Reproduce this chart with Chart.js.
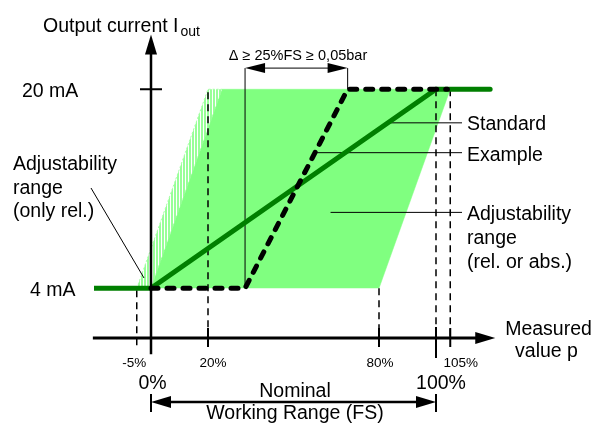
<!DOCTYPE html>
<html>
<head>
<meta charset="utf-8">
<script src="https://cdn.jsdelivr.net/npm/chart.js@4.4.1/dist/chart.umd.min.js"></script>
<style>
  html, body { margin: 0; padding: 0; background: #fff; }
  #wrap { width: 593px; height: 427px; position: relative; }
</style>
</head>
<body>
<div id="wrap"><canvas id="chart"></canvas></div>
<script>
// Measured value p in % of FS, output current in mA
const standardX = [-20, 0, 100, 119];
const standardY = [4, 4, 20, 20];
const exampleX = [0, 33, 69, 104];
const exampleY = [4, 4, 20, 20];
const absRangeX = [0, 25, 105, 80];   // rel. or abs.
const absRangeY = [4, 20, 20, 4];
const relRangeX = [-5, 20, 25, 0];    // only rel.
const relRangeY = [4, 20, 20, 4];

const smallTicks = [-5, 20, 80, 105];
const smallTickLabels = ['-5%', '20%', '80%', '105%'];
const bigTicks = [0, 100];
const bigTickLabels = ['0%', '100%'];
const currentTicks = [4, 20];
const currentTickLabels = ['4 mA', '20 mA'];
const deltaFrom = 33, deltaTo = 69;

const FONT = '"Liberation Sans", Arial, sans-serif';
const BIG = 19.5, SMALL = 13.5;
const GREEN = '#80ff80';
const DARK_GREEN = '#007f00';

function pts(xs, ys) {
    return xs.map((x, i) => ({ x: x, y: ys[i] }));
}

function hatchPattern() {
    const c = document.createElement('canvas');
    c.width = 3; c.height = 4;
    const g = c.getContext('2d');
    g.fillStyle = '#98ff98';
    g.fillRect(0, 0, 3, 4);
    g.fillStyle = '#ffffff';
    g.fillRect(2, 0, 1, 4);
    return g.createPattern(c, 'repeat');
}

function arrowHead(ctx, x, y, dx, dy, len, half) {
    // tip at (x,y), pointing along (dx,dy)
    const nx = -dy, ny = dx;
    ctx.beginPath();
    ctx.moveTo(x, y);
    ctx.lineTo(x - dx * len + nx * half, y - dy * len + ny * half);
    ctx.lineTo(x - dx * len - nx * half, y - dy * len - ny * half);
    ctx.closePath();
    ctx.fill();
}

function line(ctx, x1, y1, x2, y2, w, dash) {
    ctx.save();
    ctx.lineWidth = w;
    ctx.setLineDash(dash || []);
    ctx.beginPath();
    ctx.moveTo(x1, y1);
    ctx.lineTo(x2, y2);
    ctx.stroke();
    ctx.restore();
}

// y is the baseline
function text(ctx, s, x, y, size, align) {
    ctx.font = size + 'px ' + FONT;
    ctx.textAlign = align || 'left';
    ctx.textBaseline = 'alphabetic';
    ctx.fillText(s, x, y);
}

// thin guide lines, drawn between the areas and the curves
const guidesPlugin = {
    id: 'guides',
    beforeDatasetDraw(chart, args) {
        if (args.index !== 2) return;
        const ctx = chart.ctx;
        const px = v => chart.scales.x.getPixelForValue(v);
        const py = v => chart.scales.y.getPixelForValue(v);
        ctx.save();
        ctx.strokeStyle = '#000';
        const d = [7, 5];
        line(ctx, px(-5), py(4) + 2, px(-5), py(-0.8), 1.5, d);
        line(ctx, px(20), py(20) + 3, px(20), py(0), 1.5, d);
        line(ctx, px(80), py(4), px(80), py(0), 1.5, d);
        line(ctx, px(100), py(20), px(100), py(0), 1.5, d);
        line(ctx, px(105), py(20), px(105), py(0), 1.5, d);
        // delta markers
        line(ctx, px(deltaFrom), py(4), px(deltaFrom), py(21.7), 1);
        line(ctx, px(deltaTo), py(20), px(deltaTo), py(21.7), 1);
        // leaders
        line(ctx, 91, 188, 144, 278, 1);
        line(ctx, px(84), py(17.3), 462, py(17.3), 1);
        line(ctx, px(57.5), py(14.9), 462, py(14.9), 1);
        line(ctx, px(63), py(10.1), 462, py(10.1), 1);
        ctx.restore();
    },
    afterDatasetsDraw(chart) {
        const ctx = chart.ctx;
        const px = v => chart.scales.x.getPixelForValue(v);
        const py = v => chart.scales.y.getPixelForValue(v);
        ctx.save();
        ctx.strokeStyle = '#000';
        ctx.fillStyle = '#000';
        // x axis
        const x0 = px(-20.4), xTip = px(120.8), yAx = py(0);
        line(ctx, x0, yAx, xTip - 10, yAx, 3);
        arrowHead(ctx, xTip, yAx, 1, 0, 20, 6);
        // y axis
        const yTip = py(24.4), xAx = px(0);
        line(ctx, xAx, py(-1.3), xAx, yTip + 10, 2.5);
        arrowHead(ctx, xAx, yTip, 0, -1, 20, 6);
        // y tick at 20 mA
        line(ctx, xAx - 11, py(20), xAx + 11, py(20), 2);
        // x ticks
        [20, 80, 105].forEach(v => line(ctx, px(v), yAx - 10, px(v), yAx + 9, 2));
        line(ctx, px(100), yAx - 11, px(100), yAx + 20, 2);
        // tick labels
        const smallOff = [-2.5, 5, 1, 10.5];
        smallTicks.forEach((v, i) => text(ctx, smallTickLabels[i], px(v) + smallOff[i], 367, SMALL, 'center'));
        const bigOff = [1.5, 5];
        bigTicks.forEach((v, i) => text(ctx, bigTickLabels[i], px(v) + bigOff[i], 388.5, BIG, 'center'));
        const curX = [30, 22];
        currentTicks.forEach((v, i) => text(ctx, currentTickLabels[i], curX[i], py(v) + 7.5, BIG, 'left'));
        // nominal working range
        const yDim = py(-5.15);
        line(ctx, px(0), yDim - 8, px(0), yDim + 10, 2);
        line(ctx, px(100), yDim - 8, px(100), yDim + 10, 2);
        line(ctx, px(0) + 15, yDim, px(100) - 15, yDim, 2.5);
        arrowHead(ctx, px(0), yDim, -1, 0, 20, 6);
        arrowHead(ctx, px(100), yDim, 1, 0, 20, 6);
        text(ctx, 'Nominal', 295, 396.5, BIG, 'center');
        text(ctx, 'Working Range (FS)', 295, 418.5, BIG, 'center');
        // delta arrow
        const yD = py(21.7);
        line(ctx, px(deltaFrom) + 12, yD, px(deltaTo) - 12, yD, 1);
        arrowHead(ctx, px(deltaFrom), yD, -1, 0, 20, 5);
        arrowHead(ctx, px(deltaTo), yD, 1, 0, 20, 5);
        text(ctx, '\u0394 \u2265 25%FS \u2265 0,05bar', 298, 60, 14.5, 'center');
        // axis titles
        text(ctx, 'Output current I', 43, 31.5, BIG, 'left');
        ctx.font = BIG + 'px ' + FONT;
        const w = ctx.measureText('Output current I').width;
        text(ctx, 'out', 43 + w + 2, 36, 14, 'left');
        text(ctx, 'Measured', 548.5, 335, BIG, 'center');
        text(ctx, 'value p', 546.5, 356.5, BIG, 'center');
        // callouts
        text(ctx, 'Adjustability', 13, 170, BIG, 'left');
        text(ctx, 'range', 13, 193.5, BIG, 'left');
        text(ctx, '(only rel.)', 13, 217, BIG, 'left');
        text(ctx, 'Standard', 467, 130, BIG, 'left');
        text(ctx, 'Example', 467, 160.5, BIG, 'left');
        text(ctx, 'Adjustability', 467, 220, BIG, 'left');
        text(ctx, 'range', 467, 244, BIG, 'left');
        text(ctx, '(rel. or abs.)', 467, 268, BIG, 'left');
        ctx.restore();
    }
};

new Chart(document.getElementById('chart'), {
    type: 'scatter',
    data: {
        datasets: [
            {
                label: 'Adjustability range (only rel.)',
                data: pts(relRangeX, relRangeY),
                order: 4,
                showLine: true,
                fill: 'shape',
                backgroundColor: hatchPattern(),
                borderColor: '#a8ffa8',
                borderWidth: 1,
                borderDash: [2, 2],
                pointRadius: 0
            },
            {
                label: 'Adjustability range (rel. or abs.)',
                data: pts(absRangeX, absRangeY),
                order: 3,
                showLine: true,
                fill: 'shape',
                backgroundColor: GREEN,
                borderColor: GREEN,
                borderWidth: 0.5,
                pointRadius: 0
            },
            {
                label: 'Standard',
                data: pts(standardX, standardY),
                order: 2,
                showLine: true,
                borderColor: DARK_GREEN,
                borderWidth: 5,
                borderCapStyle: 'round',
                pointRadius: 0
            },
            {
                label: 'Example',
                data: pts(exampleX, exampleY),
                order: 1,
                showLine: true,
                borderColor: '#000',
                borderWidth: 5,
                borderDash: [7, 9],
                borderCapStyle: 'round',
                borderJoinStyle: 'round',
                pointRadius: 0
            }
        ]
    },
    options: {
        responsive: true,
        maintainAspectRatio: false,
        animation: false,
        layout: { padding: { left: 94, right: 100, top: 39.5, bottom: 39.25 } },
        plugins: {
            legend: { display: false },
            tooltip: { enabled: false }
        },
        scales: {
            x: { type: 'linear', min: -20, max: 120, display: false },
            y: { type: 'linear', min: -4, max: 24, display: false }
        }
    },
    plugins: [guidesPlugin]
});
</script>
</body>
</html>
